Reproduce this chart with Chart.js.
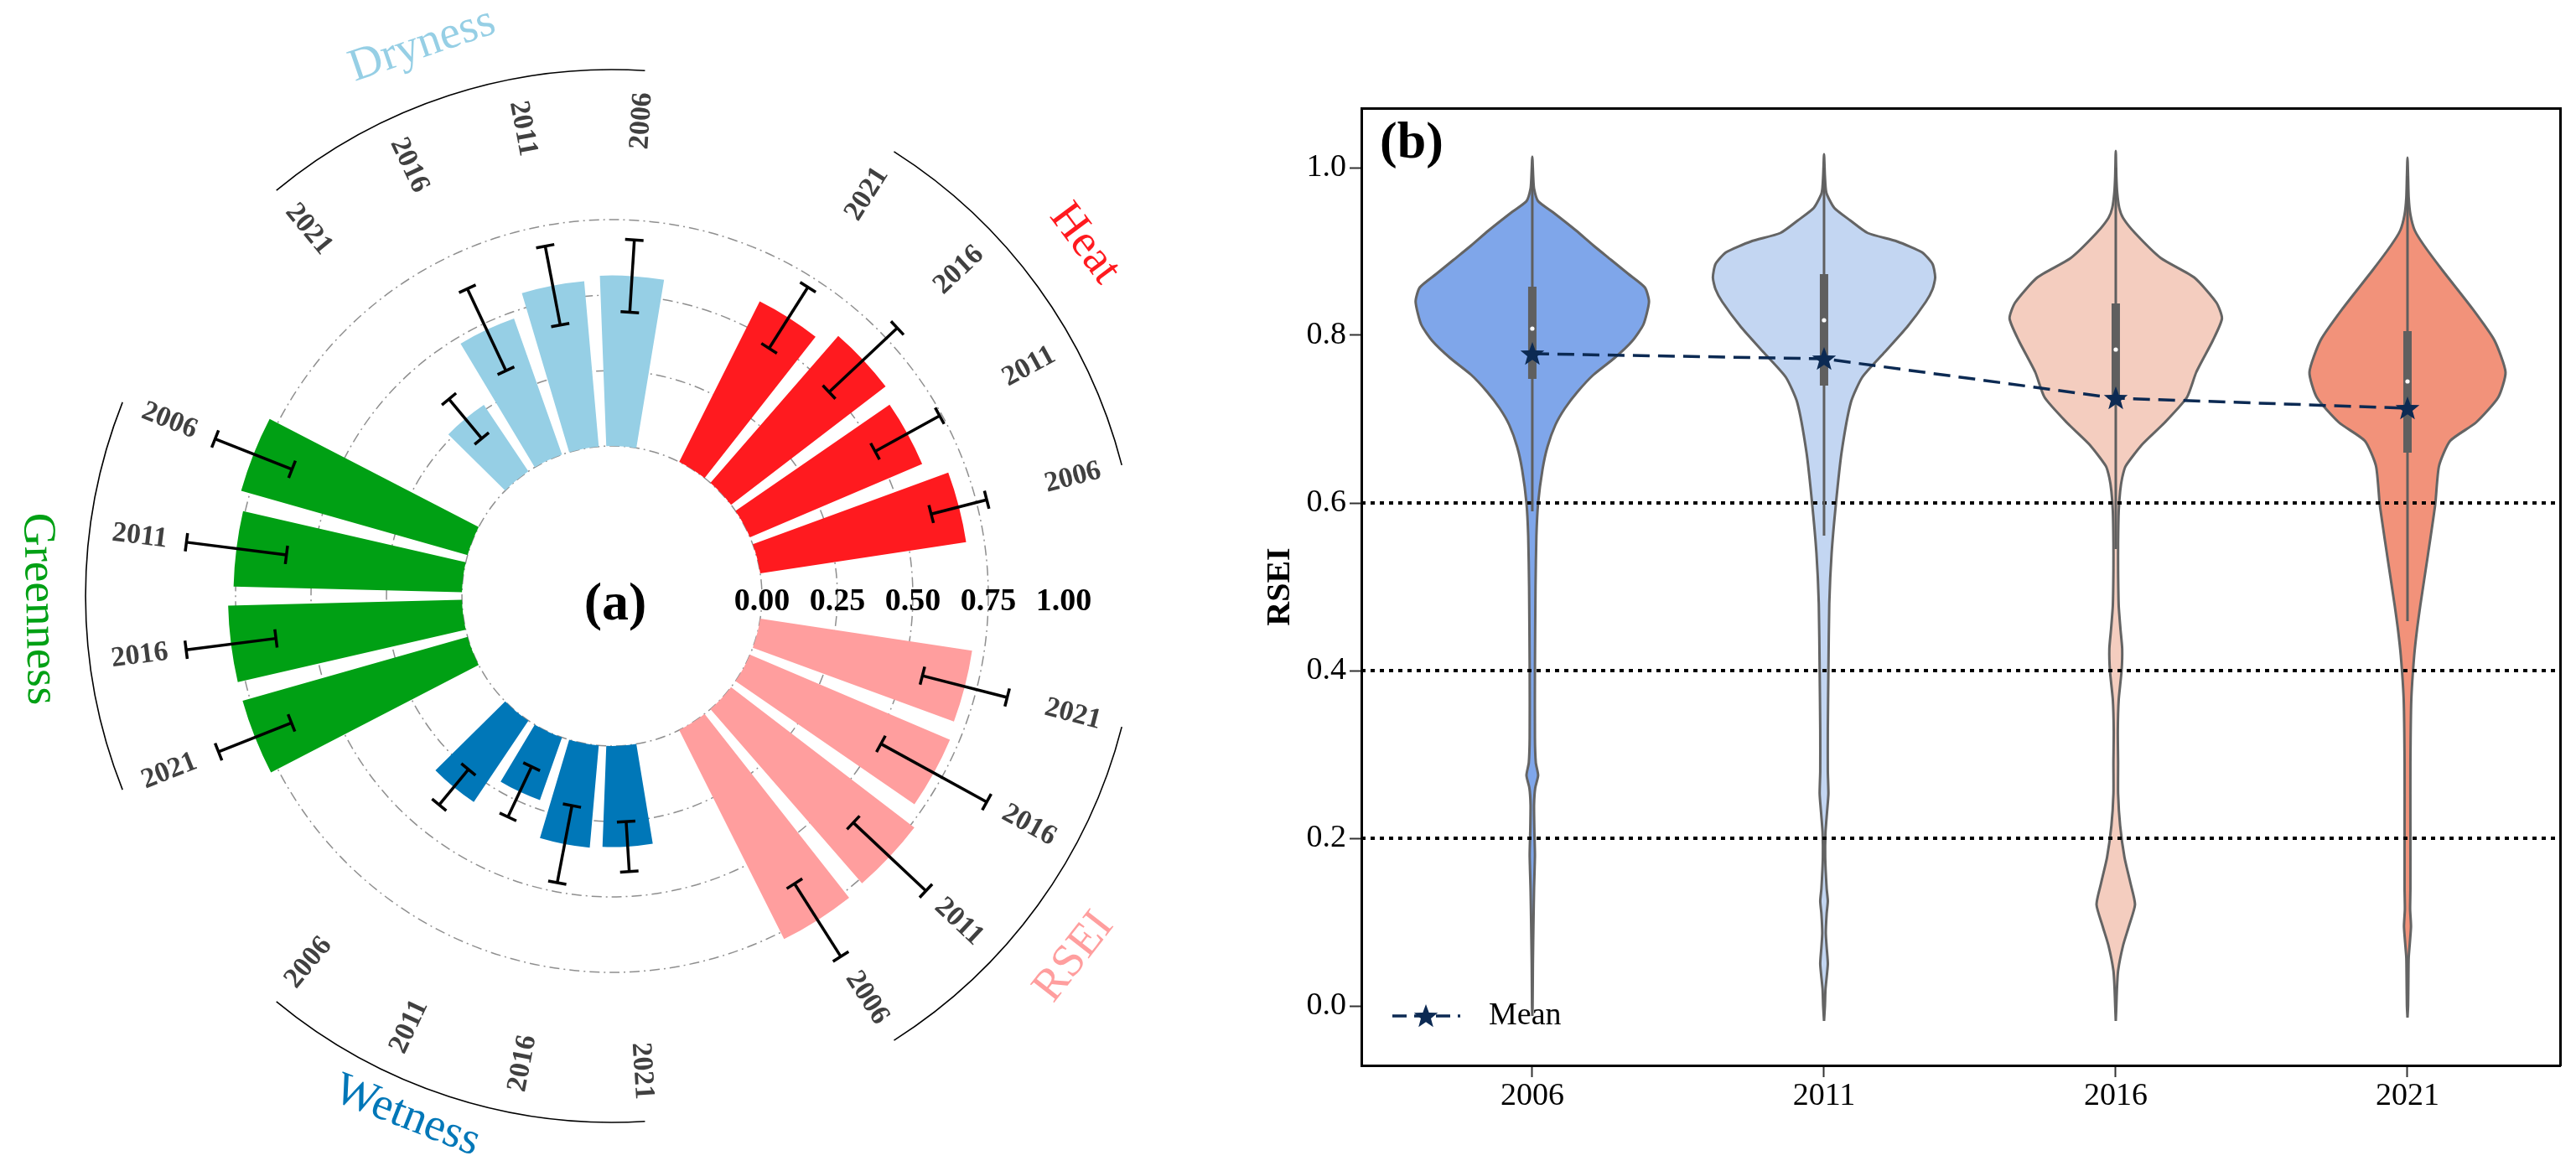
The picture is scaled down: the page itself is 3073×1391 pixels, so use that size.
<!DOCTYPE html>
<html><head><meta charset="utf-8">
<script src="https://cdn.jsdelivr.net/npm/chart.js@4.4.1/dist/chart.umd.min.js"></script>
<style>
html,body{margin:0;padding:0;background:#fff;}
#wrap{position:relative;width:3073px;height:1391px;overflow:hidden;background:#fff;}
canvas{position:absolute;top:0;}
#cA{left:0;}
#cB{left:1460px;}
</style></head><body>
<div id="wrap"><canvas id="cA" width="1460" height="1391"></canvas><canvas id="cB" width="1613" height="1391"></canvas></div>
<script>
// ================= DATA : panel (a) =================
const years = ['2006', '2011', '2016', '2021'];
const heatMean  = [0.69, 0.62, 0.645, 0.595];
const heatSd    = [0.095, 0.122, 0.155, 0.12];
const dryMean   = [0.565, 0.55, 0.478, 0.265];
const drySd     = [0.12, 0.133, 0.15, 0.085];
const greenMean = [0.78, 0.757, 0.775, 0.775];
const greenSd   = [0.137, 0.167, 0.15, 0.13];
const wetMean   = [0.325, 0.22, 0.34, 0.335];
const wetSd     = [0.076, 0.092, 0.13, 0.083];
const rseiMean  = [0.775, 0.765, 0.72, 0.71];
const rseiSd    = [0.143, 0.165, 0.20, 0.145];
const radialTickLabels = [0, 0.25, 0.5, 0.75, 1.0];
const groupNames  = ['RSEI', 'Wetness', 'Greenness', 'Dryness', 'Heat']; // clockwise from 3 o'clock
const groupColors = ['#ff9e9e', '#0077b8', '#00a014', '#96cfe5', '#ff1a1f'];

// ================= DATA : panel (b) =================
const vio2006Y = [-0.012, 0.0, 0.05, 0.1, 0.14, 0.18, 0.21, 0.24, 0.26, 0.275, 0.29, 0.32, 0.4, 0.5, 0.56, 0.6, 0.64, 0.667, 0.693, 0.713, 0.733, 0.753, 0.773, 0.793, 0.813, 0.84, 0.857, 0.873, 0.89, 0.907, 0.925, 0.947, 0.96, 0.975, 0.99, 1.013];
const vio2006W = [0, 0.001, 0.002, 0.004, 0.006, 0.009, 0.007, 0.006, 0.01, 0.02, 0.012, 0.009, 0.009, 0.011, 0.014, 0.02, 0.035, 0.052, 0.079, 0.112, 0.156, 0.21, 0.282, 0.342, 0.381, 0.4, 0.386, 0.33, 0.27, 0.21, 0.15, 0.07, 0.02, 0.006, 0.003, 0];
const vio2011Y = [-0.018, 0.0, 0.02, 0.05, 0.07, 0.087, 0.11, 0.125, 0.14, 0.177, 0.207, 0.23, 0.253, 0.28, 0.33, 0.40, 0.48, 0.54, 0.60, 0.66, 0.72, 0.75, 0.78, 0.81, 0.84, 0.855, 0.869, 0.885, 0.899, 0.912, 0.922, 0.937, 0.952, 0.97, 0.99, 1.016];
const vio2011W = [0, 0.003, 0.005, 0.013, 0.009, 0.006, 0.009, 0.013, 0.009, 0.004, 0.005, 0.01, 0.015, 0.013, 0.013, 0.015, 0.018, 0.026, 0.041, 0.06, 0.092, 0.131, 0.208, 0.285, 0.349, 0.372, 0.381, 0.372, 0.336, 0.25, 0.15, 0.09, 0.035, 0.008, 0.003, 0];
const vio2016Y = [-0.018, 0.0, 0.02, 0.042, 0.072, 0.095, 0.121, 0.147, 0.177, 0.215, 0.253, 0.29, 0.328, 0.365, 0.40, 0.426, 0.45, 0.478, 0.52, 0.553, 0.59, 0.614, 0.63, 0.644, 0.67, 0.696, 0.726, 0.756, 0.794, 0.82, 0.839, 0.869, 0.892, 0.922, 0.94, 0.952, 0.97, 0.99, 1.02];
const vio2016W = [0, 0.002, 0.004, 0.008, 0.025, 0.045, 0.066, 0.05, 0.03, 0.015, 0.008, 0.008, 0.007, 0.01, 0.02, 0.022, 0.016, 0.01, 0.008, 0.008, 0.01, 0.015, 0.022, 0.034, 0.091, 0.168, 0.244, 0.276, 0.333, 0.364, 0.345, 0.269, 0.155, 0.066, 0.025, 0.012, 0.005, 0.002, 0];
const vio2021Y = [-0.014, 0.0, 0.03, 0.057, 0.075, 0.095, 0.115, 0.14, 0.215, 0.29, 0.365, 0.418, 0.45, 0.478, 0.538, 0.598, 0.644, 0.674, 0.696, 0.726, 0.756, 0.794, 0.832, 0.877, 0.907, 0.925, 0.944, 0.965, 0.99, 1.012];
const vio2021W = [0, 0.002, 0.003, 0.004, 0.008, 0.012, 0.009, 0.01, 0.01, 0.01, 0.013, 0.023, 0.033, 0.044, 0.07, 0.095, 0.108, 0.146, 0.235, 0.311, 0.336, 0.298, 0.222, 0.121, 0.057, 0.025, 0.01, 0.004, 0.002, 0];
const boxQ1   = [0.748, 0.74, 0.72, 0.66];
const boxQ3   = [0.858, 0.873, 0.838, 0.805];
const medians = [0.808, 0.818, 0.783, 0.745];
const whiskLo = [0.59, 0.561, 0.545, 0.459];
const whiskHi = [1.0, 1.0, 1.0, 0.99];
const means   = [0.778, 0.772, 0.725, 0.713];
const refLines = [0.2, 0.4, 0.6];
const yTicksB = [0.0, 0.2, 0.4, 0.6, 0.8, 1.0];
const violinColors = ['#7fa6ea', '#c3d6f2', '#f4cdbf', '#f2927a'];

Chart.defaults.font.family = '"Liberation Serif", "Times New Roman", serif';

// ---------- build radial slots ----------
const groupMeans = [rseiMean, wetMean, greenMean, dryMean, heatMean];
const groupSds = [rseiSd, wetSd, greenSd, drySd, heatSd];
const slotVal = [], slotSd = [], slotYear = [], slotColor = [];
groupNames.forEach((g, gi) => {
  slotVal.push(null); slotSd.push(null); slotYear.push(''); slotColor.push('rgba(0,0,0,0)');
  for (let k = 3; k >= 0; k--) {
    slotVal.push(groupMeans[gi][k]); slotSd.push(groupSds[gi][k]);
    slotYear.push(years[k]); slotColor.push(groupColors[gi]);
  }
});
// label placement tweaks (style): angle offset in degrees, radius in axis units
const groupLabelAdj = [[2.0, 1.447], [3.5, 1.356], [-1.3, 1.403], [-1.0, 1.433], [-0.7, 1.456]];

function norm(a) { return Math.atan2(Math.sin(a), Math.cos(a)); }

const radialPlugin = {
  id: 'radialBars',
  afterDatasetsUpdate(chart) {
    const sc = chart.scales.r;
    const r0 = sc.getDistanceFromCenterForValue(0);
    const meta = chart.getDatasetMeta(0);
    meta.data.forEach((el, i) => {
      const pad = (el.endAngle - el.startAngle) * 0.1;
      el.startAngle += pad; el.endAngle -= pad;
      el.innerRadius = r0;
      if (slotVal[i] == null) el.outerRadius = r0;
    });
  },
  afterDraw(chart) {
    const ctx = chart.ctx, sc = chart.scales.r;
    const cx = sc.xCenter, cy = sc.yCenter;
    const meta = chart.getDatasetMeta(0);
    const mids = meta.data.map(el => (el.startAngle + el.endAngle) / 2);
    // error bars
    ctx.save();
    ctx.strokeStyle = '#000'; ctx.lineWidth = 3.5; ctx.lineCap = 'butt';
    meta.data.forEach((el, i) => {
      if (slotVal[i] == null) return;
      const a = mids[i], c = Math.cos(a), s = Math.sin(a);
      const r1 = sc.getDistanceFromCenterForValue(slotVal[i] - slotSd[i]);
      const r2 = sc.getDistanceFromCenterForValue(slotVal[i] + slotSd[i]);
      ctx.beginPath(); ctx.moveTo(cx + r1 * c, cy + r1 * s); ctx.lineTo(cx + r2 * c, cy + r2 * s); ctx.stroke();
      [r1, r2].forEach(r => {
        const px = cx + r * c, py = cy + r * s;
        ctx.beginPath(); ctx.moveTo(px + 11 * s, py - 11 * c); ctx.lineTo(px - 11 * s, py + 11 * c); ctx.stroke();
      });
    });
    ctx.restore();
    // year labels
    const rl = sc.getDistanceFromCenterForValue(1.08);
    ctx.save();
    ctx.font = 'bold 34px "Liberation Serif"'; ctx.fillStyle = '#404040';
    ctx.textAlign = 'center'; ctx.textBaseline = 'middle';
    mids.forEach((m, i) => {
      if (!slotYear[i]) return;
      const a = norm(m);
      const rot = Math.abs(a) > Math.PI / 2 ? a + Math.PI : a;
      ctx.save(); ctx.translate(cx + rl * Math.cos(a), cy + rl * Math.sin(a)); ctx.rotate(rot);
      ctx.fillText(slotYear[i], 0, 0); ctx.restore();
    });
    ctx.restore();
    // group arcs and names
    const ra = sc.getDistanceFromCenterForValue(1.247);
    groupNames.forEach((g, gi) => {
      const a1 = mids[gi * 5 + 1], a2 = mids[gi * 5 + 4];
      ctx.save();
      ctx.strokeStyle = '#000'; ctx.lineWidth = 1.6;
      ctx.beginPath(); ctx.arc(cx, cy, ra, a1, a2); ctx.stroke();
      const a = norm((a1 + a2) / 2 + groupLabelAdj[gi][0] * Math.PI / 180);
      const rg = sc.getDistanceFromCenterForValue(groupLabelAdj[gi][1]);
      const rot = Math.sin(a) > -1e-6 ? a - Math.PI / 2 : a + Math.PI / 2;
      ctx.translate(cx + rg * Math.cos(a), cy + rg * Math.sin(a)); ctx.rotate(rot);
      ctx.font = '55px "Liberation Serif"'; ctx.fillStyle = groupColors[gi];
      ctx.textAlign = 'center'; ctx.textBaseline = 'middle';
      ctx.fillText(g, 0, 0);
      ctx.restore();
    });
    // radial tick labels
    ctx.save();
    ctx.font = 'bold 38px "Liberation Serif"'; ctx.fillStyle = '#000';
    ctx.textAlign = 'center'; ctx.textBaseline = 'middle';
    radialTickLabels.forEach(v => ctx.fillText(v.toFixed(2), cx + sc.getDistanceFromCenterForValue(v), cy + 7));
    ctx.font = 'bold 64px "Liberation Serif"';
    ctx.fillText('(a)', cx + 4, cy + 11);
    ctx.restore();
  }
};

new Chart(document.getElementById('cA'), {
  type: 'polarArea',
  data: { labels: slotYear, datasets: [{ data: slotVal, backgroundColor: slotColor, borderWidth: 0, angle: 14.4 }] },
  options: {
    responsive: false, animation: false, events: [],
    layout: { padding: { left: 191, right: 191, top: 172, bottom: 141 } },
    plugins: { legend: { display: false }, tooltip: { enabled: false } },
    scales: {
      r: {
        min: -0.497, max: 1.0, startAngle: 82.8,
        ticks: { display: false },
        afterBuildTicks: s => { s.ticks = [0, 0.25, 0.5, 0.75].map(v => ({ value: v })); },
        grid: { circular: true, color: '#8f8f8f', lineWidth: 1.5 },
        border: { dash: [12, 5, 2, 5] },
        angleLines: { display: false },
        pointLabels: { display: false }
      }
    }
  },
  plugins: [radialPlugin]
});

// ================= panel (b) =================
const xMin = -0.586, xMax = 3.523, yMin = -0.071, yMax = 1.071;
const vioYs = [vio2006Y, vio2011Y, vio2016Y, vio2021Y];
const vioWs = [vio2006W, vio2011W, vio2016W, vio2021W];

function violinPts(i, ys, ws) {
  const L = ys.map((y, k) => ({ x: i - ws[k], y }));
  const R = ys.map((y, k) => ({ x: i + ws[k], y })).reverse().slice(1);
  return L.concat(R);
}
function makeStar(R, r, color) {
  const c = document.createElement('canvas');
  const S = Math.ceil(2 * R + 2); c.width = S; c.height = S;
  const g = c.getContext('2d'); g.translate(S / 2, S / 2 + 1); g.beginPath();
  for (let k = 0; k < 10; k++) {
    const rad = k % 2 === 0 ? R : r; const a = -Math.PI / 2 + k * Math.PI / 5;
    g.lineTo(rad * Math.cos(a), rad * Math.sin(a));
  }
  g.closePath(); g.fillStyle = color; g.fill(); return c;
}
const navy = '#0c2a53';
const star = makeStar(15, 6.3, navy);

const dsB = [];
years.forEach((yr, i) => {
  dsB.push({ data: violinPts(i, vioYs[i], vioWs[i]), showLine: true, fill: 'shape', backgroundColor: violinColors[i],
    borderColor: '#646464', borderWidth: 3, pointRadius: 0, tension: 0.2, order: 50 });
});
refLines.forEach(v => {
  dsB.push({ data: [{ x: xMin, y: v }, { x: xMax, y: v }], showLine: true, borderColor: '#000', borderWidth: 4,
    borderDash: [5, 6], pointRadius: 0, order: 40 });
});
years.forEach((yr, i) => {
  dsB.push({ data: [{ x: i, y: whiskLo[i] }, { x: i, y: whiskHi[i] }], showLine: true, borderColor: '#5f5f5f', borderWidth: 3, pointRadius: 0, order: 30 });
  dsB.push({ data: [{ x: i, y: boxQ1[i] }, { x: i, y: boxQ3[i] }], showLine: true, borderColor: '#5f5f5f', borderWidth: 10, borderCapStyle: 'butt', pointRadius: 0, order: 20 });
  dsB.push({ data: [{ x: i, y: medians[i] }], showLine: false, pointRadius: 2.6, pointBackgroundColor: '#fff', pointBorderWidth: 0, order: 10 });
});
dsB.push({ data: means.map((m, i) => ({ x: i, y: m })), showLine: true, borderColor: navy, borderWidth: 3.5,
  borderDash: [20, 10], pointStyle: star, pointRadius: 15, order: 0 });

const legendPlugin = {
  id: 'legendB',
  afterDraw(chart) {
    const ctx = chart.ctx, a = chart.chartArea;
    ctx.save();
    const y = a.bottom - 59;
    ctx.strokeStyle = navy; ctx.lineWidth = 3.5; ctx.setLineDash([17, 9]);
    ctx.beginPath(); ctx.moveTo(a.left + 37, y); ctx.lineTo(a.left + 118, y); ctx.stroke();
    ctx.drawImage(star, a.left + 77 - star.width / 2, y - star.height / 2);
    ctx.setLineDash([]);
    ctx.font = '38px "Liberation Serif"'; ctx.fillStyle = '#000'; ctx.textAlign = 'left'; ctx.textBaseline = 'middle';
    ctx.fillText('Mean', a.left + 152, y);
    ctx.font = 'bold 62px "Liberation Serif"';
    ctx.fillText('(b)', a.left + 22, a.top + 43);
    ctx.restore();
  }
};

new Chart(document.getElementById('cB'), {
  type: 'scatter',
  data: { datasets: dsB },
  options: {
    responsive: false, animation: false, events: [],
    layout: { padding: { left: 14, right: 19, top: 129, bottom: 20 } },
    plugins: { legend: { display: false }, tooltip: { enabled: false } },
    scales: {
      x: {
        type: 'linear', position: 'bottom', min: xMin, max: xMax,
        afterBuildTicks: s => { s.ticks = years.map((_, i) => ({ value: i })); },
        ticks: { callback: v => years[Math.round(v)], font: { size: 38 }, color: '#000', padding: 0, maxRotation: 0, autoSkip: false },
        grid: { drawOnChartArea: false, drawTicks: true, tickLength: 14, tickWidth: 2, tickColor: '#333' },
        border: { display: true, color: '#000', width: 3 },
        afterFit: s => { s.height = 100; }
      },
      y: {
        type: 'linear', position: 'left', min: yMin, max: yMax,
        afterBuildTicks: s => { s.ticks = yTicksB.map(v => ({ value: v })); },
        ticks: { callback: v => v.toFixed(1), font: { size: 38 }, color: '#000', padding: 4 },
        grid: { drawOnChartArea: false, drawTicks: true, tickLength: 14, tickWidth: 2, tickColor: '#333' },
        border: { display: true, color: '#000', width: 3 },
        title: { display: true, text: 'RSEI', font: { size: 40, weight: 'bold', lineHeight: 1.2 }, color: '#000', padding: { top: 30, bottom: 0 } },
        afterFit: s => { s.width = 150; }
      },
      x2: {
        type: 'linear', position: 'top', min: xMin, max: xMax,
        ticks: { display: false }, grid: { display: false, drawTicks: false },
        border: { display: true, color: '#000', width: 3 },
        afterFit: s => { s.height = 0; }
      },
      y2: {
        type: 'linear', position: 'right', min: yMin, max: yMax,
        ticks: { display: false }, grid: { display: false, drawTicks: false },
        border: { display: true, color: '#000', width: 3 },
        afterFit: s => { s.width = 0; }
      }
    }
  },
  plugins: [legendPlugin]
});
</script>
</body></html>
